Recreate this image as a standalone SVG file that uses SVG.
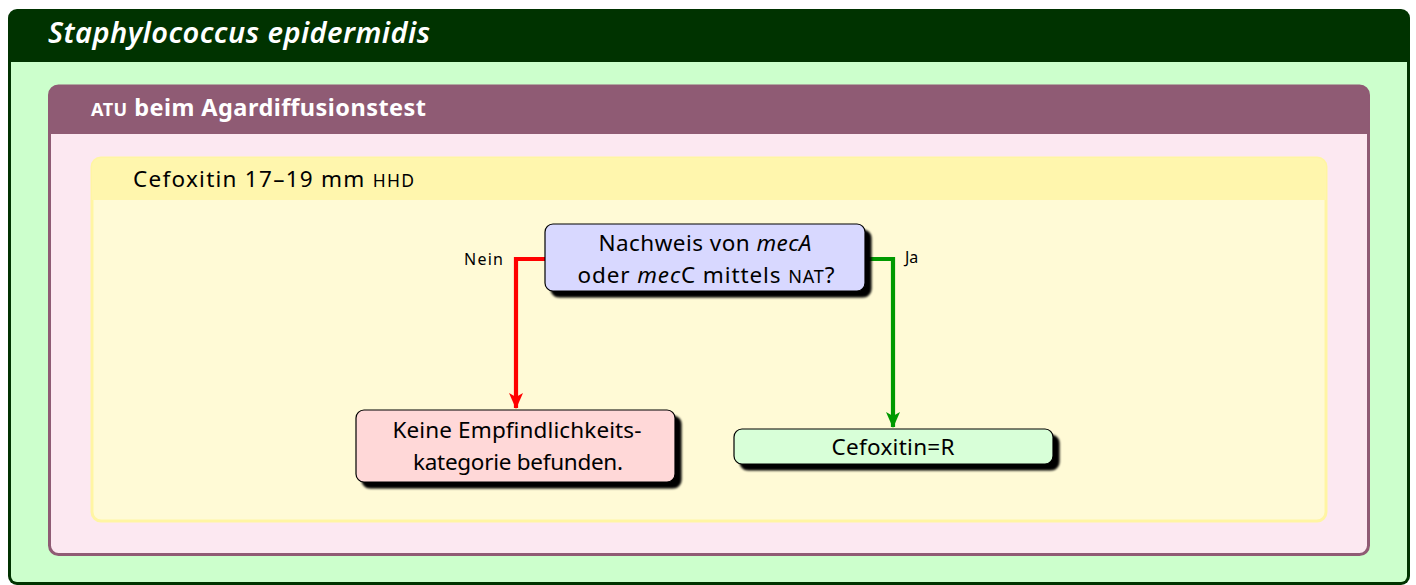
<svg xmlns="http://www.w3.org/2000/svg" width="1416" height="585" viewBox="0 0 1416 585">
<defs>
<style>
text{font-family:"Noto Sans","Open Sans",sans-serif;}
.node rect.b{stroke:#000;stroke-width:1.2;}
.nt{font-size:22.5px;fill:#000;text-anchor:middle;}
.lbl{font-size:16px;fill:#000;}
</style>
<filter id="sh" x="-10%" y="-20%" width="130%" height="160%">
<feGaussianBlur in="SourceAlpha" stdDeviation="1.3"/>
<feOffset dx="6" dy="6" result="o"/>
<feMerge><feMergeNode in="o"/><feMergeNode in="SourceGraphic"/></feMerge>
</filter>
<marker id="arR" viewBox="0 0 16 16" refX="15" refY="8" markerWidth="16" markerHeight="16" markerUnits="userSpaceOnUse" orient="auto">
<path d="M0,1 L16,8 L0,15 L4,8 Z" fill="#ff0000"/>
</marker>
<marker id="arG" viewBox="0 0 16 16" refX="15" refY="8" markerWidth="16" markerHeight="16" markerUnits="userSpaceOnUse" orient="auto">
<path d="M0,1 L16,8 L0,15 L4,8 Z" fill="#009900"/>
</marker>
</defs>
<rect width="1416" height="585" fill="#ffffff"/>
<g id="outer">
<rect x="8" y="9" width="1402" height="576" rx="9" fill="#003300"/>
<rect x="11" y="62" width="1396" height="520" rx="6" fill="#ccffcc"/>
<rect x="11" y="62" width="1396" height="10" fill="#ccffcc"/>
<text x="48" y="43" font-size="29" font-style="italic" font-weight="600" fill="#ffffff" textLength="382">Staphylococcus epidermidis</text>
</g>
<g id="atu">
<rect x="49.5" y="86" width="1319" height="468.5" rx="9" fill="#fce8f1" stroke="#8f5b74" stroke-width="3"/>
<path d="M49.5,134 V95 a9,9 0 0 1 9,-9 H1359.5 a9,9 0 0 1 9,9 V134 Z" fill="#8f5b74"/>
<text x="91" y="116" font-size="23.5" font-weight="700" fill="#ffffff" textLength="335"><tspan font-size="18">ATU</tspan> beim Agardiffusionstest</text>
</g>
<g id="cefox">
<rect x="92" y="158" width="1234" height="363" rx="9" fill="#fffad6" stroke="#fff5a3" stroke-width="3"/>
<path d="M92,200 V167 a9,9 0 0 1 9,-9 H1317 a9,9 0 0 1 9,9 V200 Z" fill="#fff6ad"/>
<text x="133" y="187" font-size="22.5" fill="#000" textLength="281">Cefoxitin 17–19 mm <tspan font-size="17.5">HHD</tspan></text>
</g>
<g id="connectors" fill="none" stroke-width="4.2" stroke-linejoin="miter">
<path d="M545,259 H516 V408" stroke="#ff0000" marker-end="url(#arR)"/>
<path d="M865,259 H893 V427" stroke="#009900" marker-end="url(#arG)"/>
<text class="lbl" x="464" y="265" stroke="none" textLength="39">Nein</text>
<text class="lbl" x="905" y="263" stroke="none">Ja</text>
</g>
<g id="n1" class="node">
<rect class="b" x="545" y="224" width="320" height="67" rx="8" fill="#d8d8ff" filter="url(#sh)"/>
<text class="nt" x="705" y="251" textLength="213">Nachweis von <tspan font-style="italic">mecA</tspan></text>
<text class="nt" x="706" y="283" textLength="257">oder <tspan font-style="italic">mec</tspan>C mittels <tspan font-size="18">NAT</tspan>?</text>
</g>
<g id="n2" class="node">
<rect class="b" x="356" y="410" width="319" height="72" rx="8" fill="#ffd8d8" filter="url(#sh)"/>
<text class="nt" x="517" y="438" textLength="249">Keine Empfindlichkeits-</text>
<text class="nt" x="518" y="470" textLength="210">kategorie befunden.</text>
</g>
<g id="n3" class="node">
<rect class="b" x="734" y="429" width="319" height="35" rx="8" fill="#d8ffd8" filter="url(#sh)"/>
<text class="nt" x="893" y="455" textLength="123">Cefoxitin=R</text>
</g>
</svg>
